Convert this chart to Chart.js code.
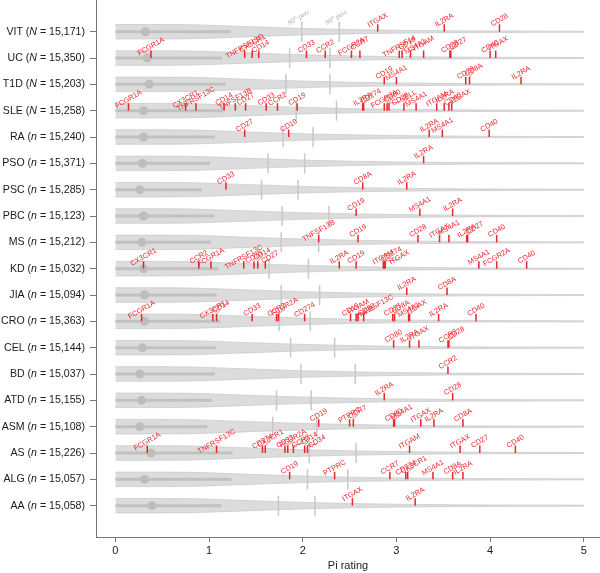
<!DOCTYPE html>
<html>
<head>
<meta charset="utf-8">
<script src="https://cdn.jsdelivr.net/npm/chart.js@4.4.1/dist/chart.umd.min.js"></script>
<style>html,body{margin:0;padding:0;background:#fff}</style>
</head>
<body>
<canvas id="chart" width="600" height="573"></canvas>
<script>
// rows, top to bottom
const rowNames = ['VIT','UC','T1D','SLE','RA','PSO','PSC','PBC','MS','KD','JIA','CRO','CEL','BD','ATD','ASM','AS','ALG','AA'];
const rowN = [15171,15350,15203,15258,15240,15371,15285,15123,15212,15032,15094,15363,15144,15037,15155,15108,15226,15057,15058];
const nSymbol = ['N','N','N','N','n','n','n','n','n','n','n','n','n','n','n','n','n','n','n'];

const medians    = [0.32,0.34,0.36,0.30,0.30,0.29,0.26,0.30,0.28,0.30,0.31,0.31,0.29,0.26,0.28,0.26,0.38,0.31,0.39];
const whiskerEnd = [1.23,1.14,1.18,1.15,1.06,1.01,0.92,1.05,1.02,1.10,1.08,1.12,1.07,1.06,1.03,0.98,1.25,1.24,1.13];
const perc90     = [1.99,1.86,1.82,1.93,1.79,1.63,1.56,1.78,1.77,1.64,1.77,1.75,1.87,1.98,1.72,1.68,2.07,2.05,1.74];
const perc95     = [2.39,2.29,2.29,2.36,2.11,2.02,1.95,2.28,2.17,2.06,2.18,2.08,2.34,2.56,2.09,2.15,2.57,2.48,2.13];

// relative density of the violin (shared shape)
const densityX = [0, 0.5, 0.8, 1.2, 1.6, 2.0, 2.5, 3.0, 3.5, 4.0, 5.0];
const density  = [1.0, 1.0, 0.97, 0.8, 0.62, 0.45, 0.3, 0.2, 0.14, 0.1, 0.07];

const geneNames = [
  ['ITGAX','IL2RA','CD28'],
  ['FCGR1A','TNFRSF13C','CX3CR1','CD14','CD33','CCR2','FCGR2A','CCR7','TNFRSF14','CD19','MS4A1','ITGAM','CD28','CD27','CD40','ITGAX'],
  ['CD19','MS4A1','CD28','CD8A','IL2RA'],
  ['FCGR1A','CX3CR1','TNFRSF13C','CD14','TNFSF13B','CD27','CD33','CCR2','CD19','IL3RA','CD274','FCGR2A','CD80','CD28','SELL','MS4A1','ITGAM','IL2RA','CD40','ITGAX'],
  ['CD27','CD19','IL2RA','MS4A1','CD40'],
  ['IL2RA'],
  ['CD33','CD8A','IL2RA'],
  ['CD19','MS4A1','IL2RA'],
  ['TNFSF13B','CD19','CD28','ITGAX','MS4A1','IL2RA','CD27','CD40'],
  ['CX3CR1','CCR2','FCGR1A','TNFRSF13C','CD33','CD14','CD27','IL2RA','CD19','ITGAM','CD274','ITGAX','MS4A1','FCGR2A','CD40'],
  ['IL2RA','CD8A'],
  ['FCGR1A','CX3CR1','CD14','CD33','CCR2','FCGR2A','CD274','CD19','ITGAM','CD80','TNFRSF13C','CD27','CD8A','MS4A1','ITGAX','IL2RA','CD40'],
  ['CD80','IL2RA','ITGAX','CCR2','CD28'],
  ['CCR2'],
  ['IL2RA','CD28'],
  ['CD19','PTPRC','CCR7','CD80','MS4A1','ITGAX','IL2RA','CD8A'],
  ['FCGR1A','TNFRSF13C','CD274','CX3CR1','CD33','FCGR2A','CCR2','CD14','CD34','ITGAM','ITGAX','CD27','CD40'],
  ['CD19','PTPRC','CCR7','CD274','CX3CR1','MS4A1','CD8A','IL2RA'],
  ['ITGAX','IL2RA']
];
const geneValues = [
  [2.80,3.51,4.10],
  [0.38,1.38,1.46,1.53,2.04,2.24,2.52,2.61,3.03,3.06,3.15,3.29,3.57,3.58,4.00,4.06],
  [2.87,3.00,3.74,3.78,4.33],
  [0.14,0.75,0.86,1.16,1.28,1.39,1.61,1.73,1.94,2.64,2.65,2.87,2.90,2.92,3.08,3.21,3.43,3.51,3.56,3.59],
  [1.38,1.85,3.35,3.49,3.99],
  [3.29],
  [1.18,2.64,3.11],
  [2.57,3.25,3.60],
  [2.17,2.59,3.23,3.46,3.56,3.75,3.76,4.07],
  [0.30,0.89,1.02,1.37,1.48,1.52,1.60,2.39,2.57,2.86,2.87,2.88,3.88,4.07,4.39],
  [3.11,3.54],
  [0.28,1.04,1.08,1.46,1.72,1.74,2.02,2.51,2.57,2.59,2.65,2.96,2.98,3.13,3.14,3.45,3.85],
  [2.97,3.14,3.24,3.55,3.56],
  [3.55],
  [2.87,3.60],
  [2.17,2.50,2.54,2.97,2.98,3.26,3.40,3.71],
  [0.34,1.08,1.57,1.60,1.81,1.84,1.90,2.02,2.05,3.14,3.68,3.89,4.27],
  [1.86,2.34,2.93,3.10,3.12,3.39,3.60,3.71],
  [2.53,3.20]
];
const xTicks = [0, 1, 2, 3, 4, 5];

const HALF = 0.275;         // violin half height (row units) at density 1
const RED = 'rgb(233,38,42)';
const FONT = '"Liberation Sans", Arial, Helvetica, sans-serif';

var datasets = [];
rowNames.forEach((name, i) => {
  datasets.push({
    type: 'scatter', showLine: true, order: 10,
    data: densityX.map((x, k) => ({x: x, y: i - density[k] * HALF})),
    borderColor: '#cbcbcb', borderWidth: 0.8, pointRadius: 0,
    cubicInterpolationMode: 'monotone', fill: false
  });
  datasets.push({
    type: 'scatter', showLine: true, order: 10,
    data: densityX.map((x, k) => ({x: x, y: i + density[k] * HALF})),
    borderColor: '#cbcbcb', borderWidth: 0.8, pointRadius: 0,
    cubicInterpolationMode: 'monotone',
    fill: '-1', backgroundColor: '#dcdcdc'
  });
});
rowNames.forEach((name, i) => {
  datasets.push({
    type: 'scatter', showLine: true, order: 8,
    data: [{x: 0, y: i}, {x: whiskerEnd[i], y: i}],
    borderColor: '#c1c1c1', borderWidth: 3, pointRadius: 0
  });
});
datasets.push({
  type: 'scatter', order: 6,
  data: rowNames.map((n, i) => ({x: perc90[i], y: i})).concat(rowNames.map((n, i) => ({x: perc95[i], y: i}))),
  pointStyle: 'line', rotation: 90, pointRadius: 10,
  borderColor: '#c8c8c8', pointBorderWidth: 1.5
});
datasets.push({
  type: 'scatter', order: 5,
  data: medians.map((m, i) => ({x: m, y: i})),
  pointRadius: 4.5, backgroundColor: '#bdbdbd', borderWidth: 0
});

// red gene ticks + labels, percentile labels, row labels
const overlay = {
  id: 'overlay',
  afterDatasetsDraw(chart) {
    const ctx = chart.ctx, xs = chart.scales.x, ys = chart.scales.y;
    ctx.save();
    // percentile captions on top row
    ctx.fillStyle = '#aaaaaa';
    [[perc90[0], '90'], [perc95[0], '95']].forEach(p => {
      const px = xs.getPixelForValue(p[0]), py = ys.getPixelForValue(0);
      ctx.save();
      ctx.translate(px - 3, py - 14);
      ctx.rotate(-Math.PI / 6);
      ctx.textBaseline = 'middle';
      ctx.font = '6px ' + FONT;
      const w1 = ctx.measureText(p[1]).width;
      ctx.font = '4px ' + FONT;
      const w2 = ctx.measureText('th').width;
      ctx.font = '6px ' + FONT;
      const w3 = ctx.measureText(' perc').width;
      let x0 = -(w1 + w2 + w3) / 2;
      ctx.fillText(p[1], x0, 0);
      ctx.font = '4px ' + FONT;
      ctx.fillText('th', x0 + w1, -2);
      ctx.font = '6px ' + FONT;
      ctx.fillText(' perc', x0 + w1 + w2, 0);
      ctx.restore();
    });

    ctx.font = '7.3px ' + FONT;
    ctx.textAlign = 'center';
    ctx.textBaseline = 'middle';
    geneNames.forEach((names, i) => {
      const py = ys.getPixelForValue(i);
      const idx = names.map((n, k) => k).sort((a, b) => geneValues[i][a] - geneValues[i][b]);
      let prev = -1e9, lift = 0;
      idx.forEach(k => {
        const px = xs.getPixelForValue(geneValues[i][k]);
        ctx.fillStyle = RED;
        ctx.fillRect(px - 0.75, py - 7.5, 1.5, 7.5);
        const ax = Math.max(px, prev + 8);
        // stagger crowded labels a little upwards
        lift = (ax - px > 1 || px - prev < 10) ? (lift ? 0 : 3) : 0;
        prev = ax;
        if (ax - px > 3) {
          ctx.strokeStyle = RED;
          ctx.lineWidth = 0.6;
          ctx.beginPath();
          ctx.moveTo(px, py - 7.5);
          ctx.lineTo(ax, py - 9 - lift);
          ctx.stroke();
        }
        ctx.save();
        ctx.translate(ax, py - 11.5 - lift);
        ctx.rotate(-Math.PI / 6);
        ctx.fillText(names[k], 0, 0);
        ctx.restore();
      });
    });
    ctx.restore();
  },
  afterDraw(chart) {
    const ctx = chart.ctx, ys = chart.scales.y;
    ctx.save();
    ctx.fillStyle = '#1a1a1a';
    ctx.textBaseline = 'middle';
    const right = chart.chartArea.left - 11;
    const f = '10.6px ' + FONT, fi = 'italic 10.6px ' + FONT;
    rowNames.forEach((name, i) => {
      const py = ys.getPixelForValue(i);
      const a = name + ' (', b = nSymbol[i], c = ' = ' + rowN[i].toLocaleString('en-US') + ')';
      ctx.font = f;
      const wa = ctx.measureText(a).width, wc = ctx.measureText(c).width;
      ctx.font = fi;
      const wb = ctx.measureText(b).width;
      let x0 = right - wa - wb - wc;
      ctx.font = f;
      ctx.fillText(a, x0, py);
      ctx.font = fi;
      ctx.fillText(b, x0 + wa, py);
      ctx.font = f;
      ctx.fillText(c, x0 + wa + wb, py);
    });
    ctx.restore();
  }
};

const canvas = document.getElementById('chart');
var ctx = canvas.getContext('2d');

var myChart = new Chart(ctx, {
  type: 'scatter',
  data: {datasets: datasets},
  plugins: [overlay],
  options: {
    responsive: false,
    animation: false,
    devicePixelRatio: 1,
    events: [],
    layout: {padding: 0, autoPadding: false},
    plugins: {legend: {display: false}, tooltip: {enabled: false}},
    scales: {
      x: {
        type: 'linear', min: -0.207, max: 5.173,
        afterBuildTicks: s => { s.ticks = xTicks.map(v => ({value: v})); },
        afterFit: s => { s.height = 36; },
        grid: {display: true, drawOnChartArea: false, drawTicks: true, tickLength: 5, color: '#777'},
        border: {display: true, color: '#777', width: 1},
        ticks: {font: {size: 11, family: FONT}, color: '#1a1a1a', padding: 2, maxRotation: 0},
        title: {display: true, text: 'Pi rating', font: {size: 11, family: FONT}, color: '#1a1a1a', padding: {top: 0, bottom: 0}}
      },
      y: {
        type: 'linear', reverse: true, min: -1.204, max: 19.19,
        afterBuildTicks: s => { s.ticks = rowNames.map((n, i) => ({value: i})); },
        afterFit: s => { s.width = 96; },
        grid: {display: true, drawOnChartArea: false, drawTicks: true, tickLength: 6, color: '#777'},
        border: {display: true, color: '#777', width: 1},
        ticks: {display: false}
      }
    }
  }
});
</script>
</body>
</html>
